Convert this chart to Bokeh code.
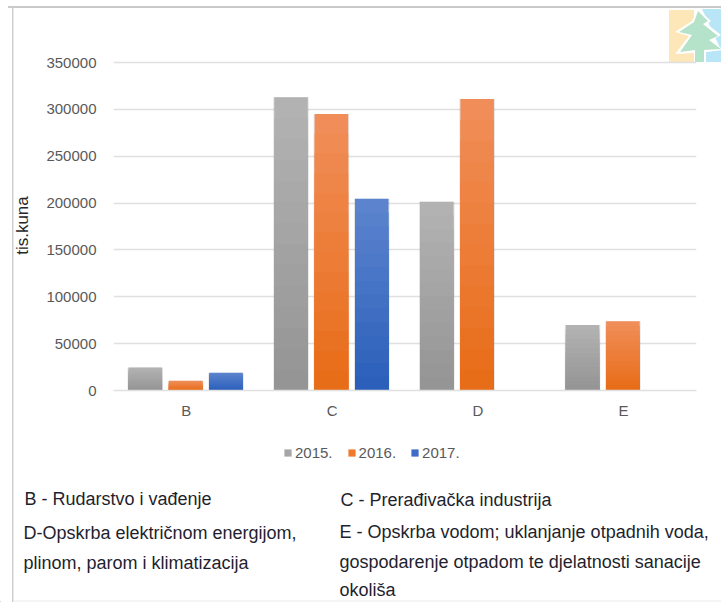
from bokeh.plotting import figure
from bokeh.layouts import column
from bokeh.models import (ColumnDataSource, FactorRange, Range1d, Label, Legend, LegendItem,
                          FixedTicker, NumeralTickFormatter)
from bokeh.transform import dodge
from bokeh.embed import file_html
from bokeh.resources import INLINE
from urllib.parse import quote

categories = ["B", "C", "D", "E"]
y2015 = [24500, 313000, 201500, 70000]
y2016 = [10500, 295000, 311000, 74000]
y2017 = [19000, 204500, float("nan"), float("nan")]
years = ["2015.", "2016.", "2017."]
colors = ["#a6a6a6", "#ee7a2c", "#3e6cc6"]
top_colors = ["#b2b2b2", "#f08d58", "#5c84ce"]
bottom_colors = ["#959595", "#e86d18", "#2b5fba"]
y_ticks = [0, 50000, 100000, 150000, 200000, 250000, 300000, 350000]
y_title = "tis.kuna"
notes = [
    ("B - Rudarstvo i vađenje", 24, 498),
    ("C - Prerađivačka industrija", 340, 499),
    ("D-Opskrba električnom energijom,", 23, 532),
    ("plinom, parom i klimatizacija", 23, 562),
    ("E - Opskrba vodom; uklanjanje otpadnih voda,", 339, 531),
    ("gospodarenje otpadom te djelatnosti sanacije", 339, 561),
    ("okoliša", 339, 589),
]

W, H = 721, 602
H1 = 430
T = 60
FONT = "Liberation Sans"
# frame top sits 2px above the 350000 line so that gridline is drawn
p = figure(width=W, height=H1, output_backend="svg", toolbar_location=None, frame_align=False,
           x_range=FactorRange(factors=categories, range_padding=0, factor_padding=0),
           y_range=Range1d(0, 350000 * 330 / 328),
           min_border_left=113, min_border_right=25, min_border_top=T, min_border_bottom=H1 - 390)
p.outline_line_color = None
p.background_fill_alpha = 0
p.border_fill_alpha = 0
p.xgrid.visible = False
p.ygrid.grid_line_color = "#e0e0e0"
p.ygrid.grid_line_width = 1.5


def hex_rgb(h):
    return [int(h[i:i + 2], 16) for i in (1, 3, 5)]


def lerp(a, b, t):
    ca, cb = hex_rgb(a), hex_rgb(b)
    return "#%02x%02x%02x" % tuple(round(x + (y - x) * t) for x, y in zip(ca, cb))


bw, dx, shift = 0.23, 0.277, -0.005
steps = 14
for vals, d, tc, bc in zip([y2015, y2016, y2017], [-dx, 0, dx], top_colors, bottom_colors):
    x = dodge("cat", d + shift, range=p.x_range)
    p.vbar(x=x, top="v", width=bw + 0.014, source=ColumnDataSource(dict(cat=categories, v=vals)),
           fill_color="#000000", fill_alpha=0.10, line_color=None)
    # each bar is painted top colour first, then progressively shorter and darker
    for k in range(steps):
        f = 1 - k / steps
        s = ColumnDataSource(dict(cat=categories, v=[v * f for v in vals]))
        p.vbar(x=x, top="v", width=bw, source=s, fill_color=lerp(tc, bc, k / (steps - 1)), line_color=None)

p.yaxis.ticker = FixedTicker(ticks=y_ticks)
p.yaxis.formatter = NumeralTickFormatter(format="0")
for ax in (p.xaxis[0], p.yaxis[0]):
    ax.major_tick_line_color = None
    ax.minor_tick_line_color = None
    ax.major_label_text_font = FONT
    ax.major_label_text_font_size = "15px"
    ax.major_label_text_color = "#595959"
p.yaxis.axis_line_color = None
p.xaxis.axis_line_color = "#e0e0e0"
p.xaxis.axis_line_width = 1.5
p.yaxis.major_label_standoff = 11
p.xaxis.major_label_standoff = 5
p.yaxis.axis_label = y_title
p.yaxis.axis_label_text_font = FONT
p.yaxis.axis_label_text_font_style = "normal"
p.yaxis.axis_label_text_font_size = "17px"
p.yaxis.axis_label_text_color = "#262626"
p.yaxis.axis_label_standoff = 11

q = figure(width=W, height=H - H1, output_backend="svg", toolbar_location=None, frame_align=False,
           x_range=Range1d(0, W), y_range=Range1d(0, H - H1),
           min_border_left=0, min_border_right=0, min_border_top=0, min_border_bottom=0)
q.axis.visible = False
q.grid.visible = False
q.outline_line_color = None
q.background_fill_alpha = 0
q.border_fill_alpha = 0
# legend keys: bars placed off-frame, only their swatches show
keys = [q.vbar(x=[-100], top=[1], width=1, fill_color=c, line_color=None) for c in colors]
legend = Legend(items=[LegendItem(label=y, renderers=[r]) for y, r in zip(years, keys)],
                orientation="horizontal", location=(283, H - 452 - 9),
                border_line_color=None, background_fill_alpha=0,
                glyph_width=9, glyph_height=9, label_standoff=3, spacing=14,
                padding=0, margin=0,
                label_text_font=FONT, label_text_font_size="15px",
                label_text_color="#595959")
q.add_layout(legend, "center")
for txt, x, y in notes:
    q.add_layout(Label(x=x, y=H - y, x_units="screen", y_units="screen", text=txt,
                       text_font=FONT, text_font_size="18px", text_color="#1f1f2e",
                       text_baseline="middle", text_align="left"))

# page furniture behind the charts: frame lines and the small logo
deco = f'''<svg xmlns="http://www.w3.org/2000/svg" width="{W}" height="{H}">
<rect x="8" y="6" width="713" height="2" fill="#c9c9c9"/>
<rect x="12" y="7" width="1.5" height="595" fill="#cfcfcf"/>
<rect x="13" y="600.5" width="708" height="1" fill="#ececec"/>
<rect x="669" y="10" width="25" height="52" fill="#fde6b8"/>
<polygon points="702,9 721,9 721,62 705,62 705,52 721,50" fill="#b9e6f6"/>
<polygon points="698,9 711,21 707,24 721,35 712,40 721,48 721,50 706,52 706,62 694,62 694,53 675,54 689,36 675,32 692,21" fill="white"/>
<polygon points="698,11 708,21 703,24 718,36 709,40 721,49 704,50 704,62 695,62 695,50 680,52 692,35 679,32 694,22" fill="#b5e3c9"/>
</svg>'''
root = column(p, q, spacing=0, styles={
    "background-color": "white",
    "background-image": 'url("data:image/svg+xml,' + quote(deco) + '")',
    "background-repeat": "no-repeat",
})
open("out.html", "w").write(file_html(root, INLINE))
